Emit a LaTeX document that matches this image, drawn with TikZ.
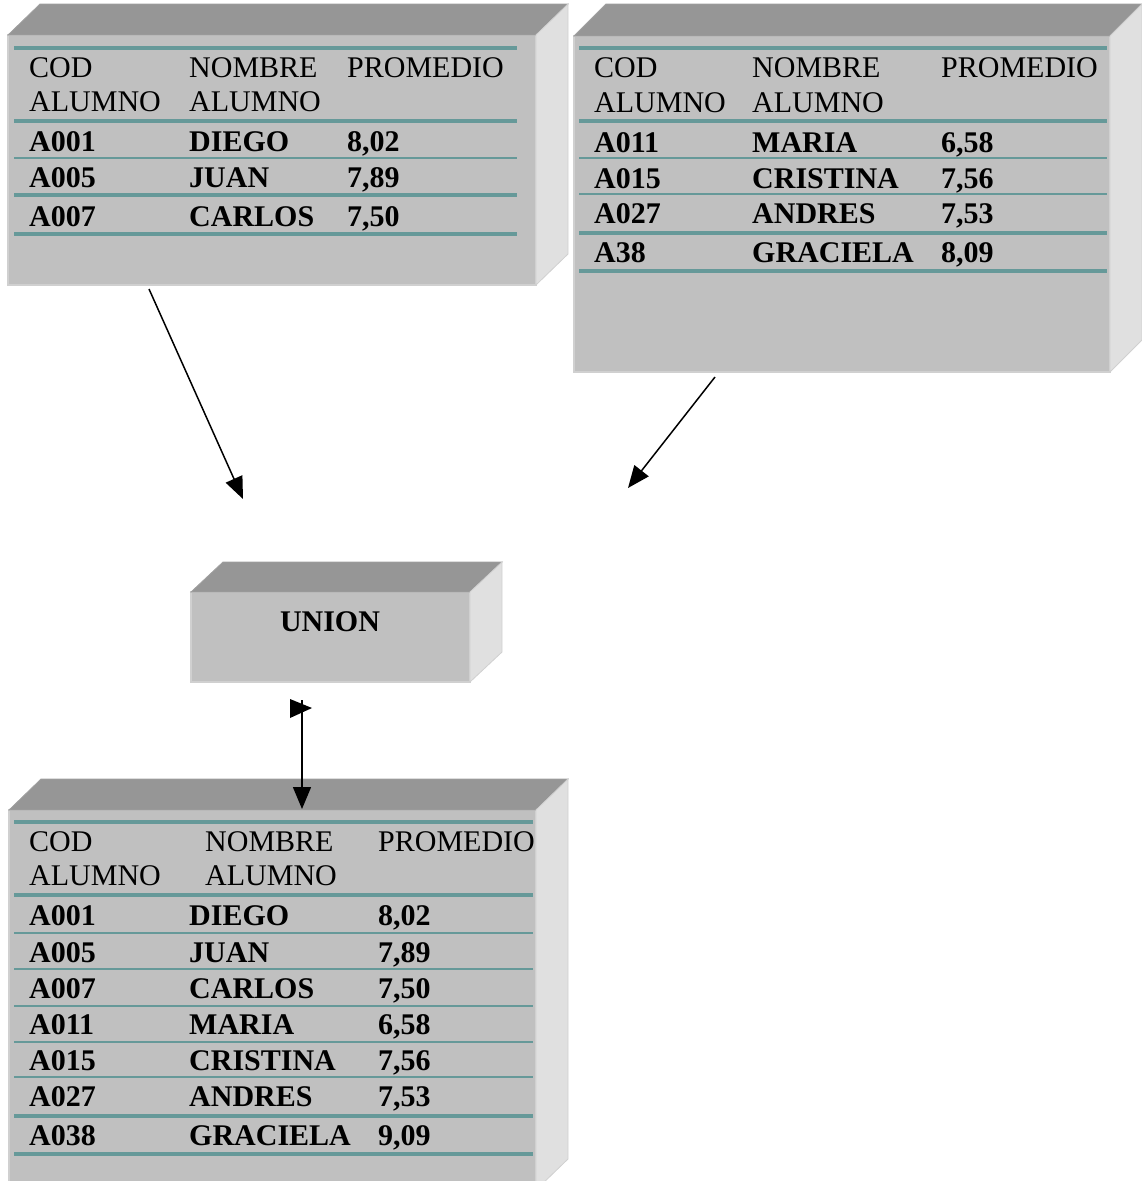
\documentclass[tikz,border=0pt]{standalone}
\usepackage{fontspec}
\setmainfont{Liberation Serif}
\usetikzlibrary{arrows.meta}
\definecolor{frontc}{RGB}{192,192,192}
\definecolor{topc}{RGB}{150,150,150}
\definecolor{sidec}{RGB}{224,224,224}
\definecolor{edgec}{RGB}{208,208,208}
\definecolor{tealc}{RGB}{102,153,153}
\begin{document}
\begin{tikzpicture}[x=1pt,y=-1pt,
  frontface/.style={fill=frontc,draw=edgec,line width=1.2pt,inner sep=0pt,outer sep=0pt,anchor=north west},
  topface/.style={fill=topc,draw=topc!90!white,line width=0.8pt},
  sideface/.style={fill=sidec,draw=edgec,line width=0.8pt},
  cell/.style={anchor=base west,inner sep=0pt,font=\fontsize{30}{36}\selectfont},
  bcell/.style={cell,font=\fontsize{30}{36}\selectfont\bfseries},
  thickrule/.style={draw=tealc,line width=4pt},
  thinrule/.style={draw=tealc,line width=2pt},
  arr/.style={draw=black,line width=1.5pt,-{Triangle[length=22pt,width=18pt]}}]
\useasboundingbox (0,0) rectangle (1142,1181);

% ---------- top-left table ----------
\node[frontface,minimum width=528pt,minimum height=250pt] (tl) at (8,35) {};
\path[topface] (tl.north west) -- ++(32,-31) -- ([shift={(32pt,31pt)}]tl.north east) -- (tl.north east) -- cycle;
\path[sideface] (tl.north east) -- ([shift={(32pt,31pt)}]tl.north east) -- ([shift={(32pt,31pt)}]tl.south east) -- (tl.south east) -- cycle;
\foreach \yy in {48,121,195,234} \draw[thickrule] (14,\yy) -- (517,\yy);
\draw[thinrule] (14,158) -- (517,158);
\foreach \x/\y/\t [count=\i] in {29/77/COD,29/111/ALUMNO,189/77/NOMBRE,189/111/ALUMNO,347/77/PROMEDIO}
  \node[cell] (tlh\i) at (\x,\y) {\t};
\foreach \x/\y/\t [count=\i] in {29/151/A001,189/151/DIEGO,347/151/{8,02},
  29/187/A005,189/187/JUAN,347/187/{7,89},
  29/226/A007,189/226/CARLOS,347/226/{7,50}}
  \node[bcell] (tlb\i) at (\x,\y) {\t};

% ---------- top-right table ----------
\node[frontface,minimum width=536pt,minimum height=336pt] (tr) at (574,36) {};
\path[topface] (tr.north west) -- ++(32,-32) -- ([shift={(32pt,32pt)}]tr.north east) -- (tr.north east) -- cycle;
\path[sideface] (tr.north east) -- ([shift={(32pt,32pt)}]tr.north east) -- ([shift={(32pt,32pt)}]tr.south east) -- (tr.south east) -- cycle;
\foreach \yy in {48,121,233,271} \draw[thickrule] (579,\yy) -- (1107,\yy);
\foreach \yy in {158,194} \draw[thinrule] (579,\yy) -- (1107,\yy);
\foreach \x/\y/\t [count=\i] in {594/77/COD,594/112/ALUMNO,752/77/NOMBRE,752/112/ALUMNO,941/77/PROMEDIO}
  \node[cell] (trh\i) at (\x,\y) {\t};
\foreach \x/\y/\t [count=\i] in {594/152/A011,752/152/MARIA,941/152/{6,58},
  594/188/A015,752/188/CRISTINA,941/188/{7,56},
  594/223/A027,752/223/ANDRES,941/223/{7,53},
  594/262/A38,752/262/GRACIELA,941/262/{8,09}}
  \node[bcell] (trb\i) at (\x,\y) {\t};

% ---------- UNION box ----------
\node[frontface,minimum width=279pt,minimum height=90pt] (un) at (191,592) {};
\path[topface] (un.north west) -- ++(32,-30) -- ([shift={(32pt,30pt)}]un.north east) -- (un.north east) -- cycle;
\path[sideface] (un.north east) -- ([shift={(32pt,30pt)}]un.north east) -- ([shift={(32pt,30pt)}]un.south east) -- (un.south east) -- cycle;
\node[bcell,anchor=base] (unt) at (330,631) {UNION};

% ---------- result table ----------
\node[frontface,minimum width=527pt,minimum height=380pt] (bt) at (9,810) {};
\path[topface] (bt.north west) -- ++(32,-31) -- ([shift={(32pt,31pt)}]bt.north east) -- (bt.north east) -- cycle;
\path[sideface] (bt.north east) -- ([shift={(32pt,31pt)}]bt.north east) -- ([shift={(32pt,31pt)}]bt.south east) -- (bt.south east) -- cycle;
\foreach \yy in {822,895,1116,1154} \draw[thickrule] (14,\yy) -- (533,\yy);
\foreach \yy in {933,969,1006,1042,1077} \draw[thinrule] (14,\yy) -- (533,\yy);
\foreach \x/\y/\t [count=\i] in {29/851/COD,29/885/ALUMNO,205/851/NOMBRE,205/885/ALUMNO,378/851/PROMEDIO}
  \node[cell] (bth\i) at (\x,\y) {\t};
\foreach \x/\y/\t [count=\i] in {29/925/A001,189/925/DIEGO,378/925/{8,02},
  29/962/A005,189/962/JUAN,378/962/{7,89},
  29/998/A007,189/998/CARLOS,378/998/{7,50},
  29/1034/A011,189/1034/MARIA,378/1034/{6,58},
  29/1070/A015,189/1070/CRISTINA,378/1070/{7,56},
  29/1106/A027,189/1106/ANDRES,378/1106/{7,53},
  29/1145/A038,189/1145/GRACIELA,378/1145/{9,09}}
  \node[bcell] (btb\i) at (\x,\y) {\t};

% ---------- connectors ----------
\coordinate (a1s) at (149,289);
\coordinate (a1e) at (243,499);
\coordinate (a2s) at (715,377);
\coordinate (a2e) at (628,488);
\coordinate (a3s) at (302,700);
\coordinate (a3e) at (302,809);
\draw[arr] (a1s) -- (a1e);
\draw[arr] (a2s) -- (a2e);
\draw[arr] (a3s) -- (a3e);
\fill (290,699) -- (312,708) -- (290,718) -- cycle;
\end{tikzpicture}
\end{document}
